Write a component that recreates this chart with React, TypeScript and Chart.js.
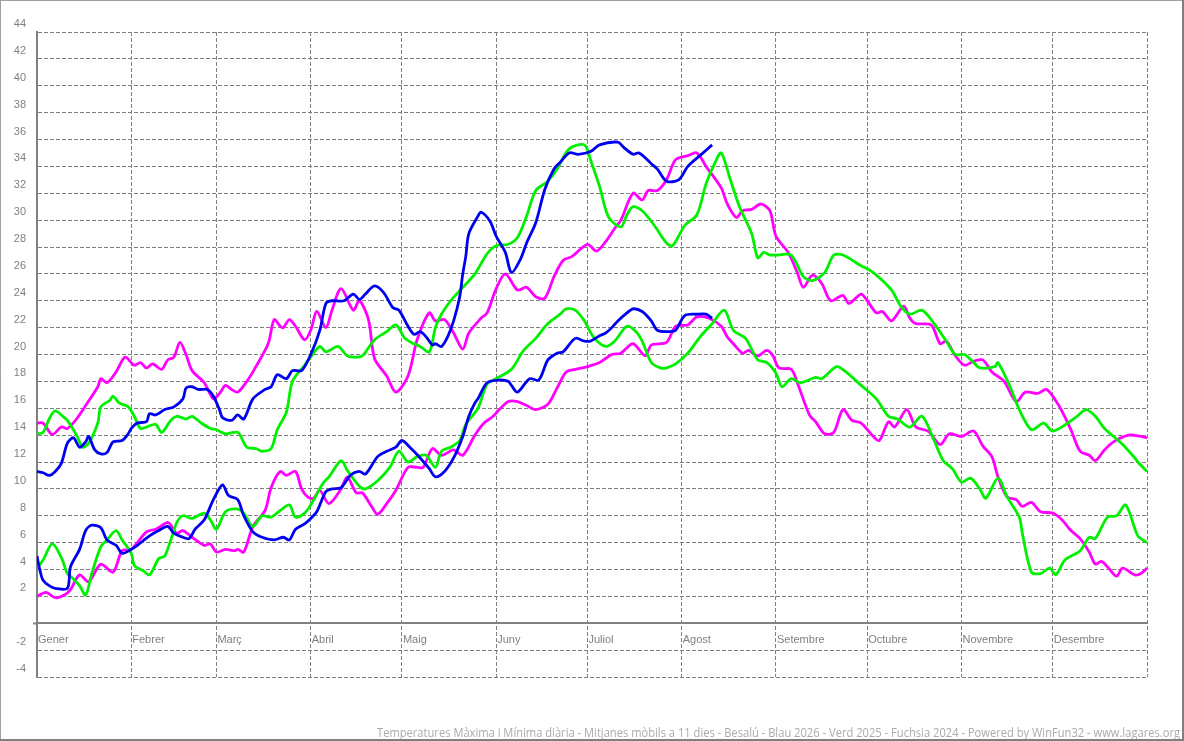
import React, { useEffect, useRef } from "react";
import { Chart, registerables } from "chart.js";

Chart.register(...registerables);

type P = [number, number];

const monthNames = ["Gener", "Febrer", "Març", "Abril", "Maig", "Juny", "Juliol", "Agost", "Setembre", "Octubre", "Novembre", "Desembre", ""];
const monthStarts = [0, 31, 59, 90, 120, 151, 181, 212, 243, 273, 304, 334, 365];

const yMin = -4;
const yMax = 44;
const yStep = 2;

const footerText = "Temperatures Màxima i Mínima diària - Mitjanes mòbils a 11 dies - Besalú - Blau 2026 - Verd 2025 - Fuchsia 2024 - Powered by WinFun32 - www.lagares.org";

// [day of year, °C]
const max2026: P[] = [[0,11.3],[2,11.2],[4,11.0],[6,11.3],[8,11.9],[10,13.4],[12,13.8],[14,13.1],[16,13.5],[17,13.9],[19,12.9],[21,12.6],[23,12.7],[25,13.5],[28,13.6],[30,14.1],[31,14.5],[33,14.9],[36,15.0],[37,15.6],[39,15.5],[42,15.9],[45,16.1],[48,16.7],[49,17.5],[51,17.6],[53,17.4],[56,17.4],[58,16.9],[60,15.9],[61,15.3],[64,15.1],[66,15.5],[68,15.2],[71,16.7],[75,17.4],[77,17.6],[79,18.5],[82,18.2],[84,18.8],[87,18.8],[90,20.0],[93,21.8],[95,23.8],[97,24.0],[101,24.0],[104,24.5],[106,24.1],[108,24.5],[111,25.1],[114,24.6],[117,23.5],[119,23.3],[122,22.1],[124,21.5],[126,21.7],[128,21.3],[130,20.7],[131,20.8],[133,20.6],[135,21.3],[137,22.5],[139,24.3],[140,26.0],[141,27.3],[142,29.0],[145,30.3],[146,30.6],[149,29.9],[151,28.8],[154,27.6],[156,26.1],[159,27.1],[161,28.3],[164,29.8],[167,32.3],[170,33.8],[172,34.3],[175,35.0],[178,34.9],[182,35.1],[185,35.6],[191,35.8],[193,35.4],[196,34.9],[198,35.0],[202,34.2],[204,33.8],[207,32.9],[211,33.0],[214,34.0],[218,34.8],[222,35.6]];

const min2026: P[] = [[0,5.0],[1,3.9],[2,3.2],[4,2.8],[6,2.6],[10,2.6],[11,4.2],[14,5.5],[16,6.9],[18,7.3],[21,7.1],[23,6.2],[26,5.8],[28,5.2],[31,5.5],[33,5.8],[37,6.5],[40,6.9],[43,7.2],[45,6.7],[48,6.4],[50,6.3],[52,7.0],[55,7.7],[58,9.2],[61,10.3],[63,9.5],[66,9.2],[68,8.0],[71,6.8],[74,6.4],[78,6.2],[81,6.4],[83,6.2],[85,7.0],[88,7.4],[90,7.8],[92,8.3],[95,9.8],[97,10.0],[100,10.1],[103,11.0],[106,11.3],[108,11.1],[112,12.4],[115,12.8],[118,13.1],[120,13.6],[123,13.0],[126,12.3],[129,11.5],[131,10.9],[134,11.3],[137,12.3],[140,13.9],[142,15.4],[144,16.4],[145,16.7],[148,17.9],[152,18.1],[155,18.0],[156,17.7],[158,17.2],[162,18.2],[165,18.1],[168,19.6],[171,20.1],[173,20.2],[177,21.2],[180,21.0],[182,21.0],[185,21.4],[187,21.6],[189,22.0],[191,22.5],[194,23.1],[196,23.4],[199,23.2],[202,22.5],[204,21.8],[208,21.7],[210,21.8],[213,22.9],[217,23.0],[220,23.0],[222,22.7]];

const max2025: P[] = [[0,14.1],[2,14.2],[4,15.2],[6,15.8],[9,15.3],[10,15.1],[13,14.0],[15,13.1],[17,13.4],[20,14.9],[21,16.1],[24,16.6],[25,16.9],[27,16.4],[30,16.1],[32,15.4],[34,14.5],[36,14.6],[39,14.8],[41,14.2],[44,15.1],[46,15.4],[49,15.2],[51,15.4],[54,14.9],[57,14.5],[59,14.4],[62,14.1],[66,14.2],[69,13.1],[72,13.0],[74,12.8],[77,13.0],[79,14.4],[82,15.7],[84,18.0],[88,19.2],[90,19.8],[93,20.6],[95,20.2],[99,20.6],[102,19.9],[105,19.8],[107,19.9],[111,21.1],[115,21.7],[118,22.2],[121,21.2],[124,20.8],[126,20.6],[129,20.2],[131,22.0],[133,23.0],[136,24.0],[138,24.5],[140,25.0],[144,26.0],[148,27.5],[151,28.1],[155,28.2],[158,28.7],[161,30.3],[164,32.2],[168,32.9],[171,33.8],[175,35.3],[180,35.6],[182,34.5],[185,32.5],[188,30.2],[192,29.5],[194,30.4],[196,31.0],[199,30.7],[203,29.6],[207,28.3],[209,28.1],[213,29.6],[217,30.4],[220,32.7],[223,34.3],[225,35.0],[228,33.0],[231,31.0],[235,29.0],[237,27.2],[239,27.6],[241,27.4],[243,27.4],[248,27.4],[252,25.8],[255,25.5],[259,26.1],[262,27.4],[265,27.4],[271,26.6],[275,26.1],[281,24.8],[284,23.6],[287,23.0],[291,23.3],[295,22.3],[299,21.0],[302,20.0],[305,20.0],[308,19.4],[310,19.0],[315,19.1],[316,19.4],[320,17.6],[323,15.9],[327,14.4],[331,14.9],[334,14.3],[339,14.9],[342,15.4],[345,15.9],[348,15.4],[351,14.5],[354,13.9],[357,13.3],[361,12.3],[362,12.0],[365,11.3]];

const min2025: P[] = [[0,4.1],[2,4.7],[5,5.9],[8,4.9],[10,3.7],[12,3.3],[14,2.8],[16,2.1],[18,3.7],[21,5.7],[23,6.2],[26,6.9],[28,6.2],[31,5.2],[32,4.3],[35,3.9],[37,3.6],[40,4.8],[42,5.0],[44,6.2],[46,7.5],[48,8.0],[51,7.8],[55,8.2],[57,7.7],[59,7.0],[62,8.3],[66,8.5],[68,8.2],[71,7.2],[74,8.0],[77,7.9],[80,8.4],[83,8.8],[85,7.9],[88,8.2],[90,8.8],[94,10.4],[96,10.9],[100,12.1],[102,11.4],[106,10.2],[108,10.0],[112,10.6],[116,11.6],[119,12.8],[122,12.0],[125,12.4],[128,12.5],[131,11.6],[133,12.8],[136,13.1],[139,13.6],[141,14.8],[145,16.0],[148,17.8],[151,18.2],[156,18.9],[160,20.3],[164,21.2],[168,22.3],[172,23.0],[174,23.4],[177,23.3],[180,22.5],[183,21.3],[187,20.6],[190,21.0],[194,22.1],[197,21.7],[199,21.0],[202,19.4],[205,19.0],[207,19.0],[210,19.3],[214,20.1],[218,21.3],[222,22.3],[226,23.3],[229,21.8],[233,21.2],[237,19.6],[240,19.4],[243,18.6],[245,17.6],[248,18.2],[251,17.9],[256,18.3],[258,18.2],[263,19.1],[266,18.7],[271,17.7],[276,16.7],[280,15.4],[283,15.2],[287,14.6],[291,15.4],[295,13.6],[298,12.1],[301,11.5],[304,10.5],[307,10.8],[310,10.0],[312,9.3],[316,10.8],[319,9.4],[323,7.9],[324,6.7],[327,3.8],[330,3.7],[333,4.1],[335,3.6],[338,4.7],[343,5.4],[346,6.4],[348,6.3],[352,7.9],[355,8.0],[358,8.8],[362,6.5],[365,6.0]];

const max2024: P[] = [[0,14.9],[2,14.9],[5,14.05],[8,14.6],[10,14.5],[13,15.2],[16,16.2],[20,17.6],[21,18.2],[23,17.9],[26,18.7],[29,19.8],[32,19.2],[34,19.4],[36,19.0],[38,19.3],[41,18.9],[43,19.6],[45,19.8],[47,20.9],[49,20.0],[51,18.8],[55,17.9],[58,16.7],[60,17.1],[62,17.7],[64,17.4],[66,17.2],[69,18.0],[72,19.1],[76,20.8],[78,22.6],[80,22.1],[81,22.0],[83,22.6],[85,22.1],[88,21.1],[90,21.8],[92,23.2],[95,22.0],[97,23.3],[100,24.9],[104,23.3],[106,24.0],[109,22.6],[111,19.7],[115,18.4],[118,17.2],[122,18.4],[125,21.1],[129,23.1],[131,22.5],[134,22.6],[137,21.6],[140,20.4],[142,21.6],[146,22.7],[148,23.1],[151,24.9],[154,26.0],[158,24.8],[161,25.0],[164,24.3],[167,24.2],[170,25.8],[173,27.0],[176,27.3],[181,28.2],[184,27.7],[187,28.4],[190,29.4],[192,30.0],[196,32.0],[199,31.5],[201,32.2],[204,32.2],[207,33.0],[210,34.5],[214,34.8],[217,35.0],[220,34.0],[225,32.4],[227,31.2],[230,30.2],[232,30.7],[235,30.8],[238,31.2],[241,30.7],[243,28.8],[247,27.6],[250,26.1],[252,25.0],[255,25.9],[258,25.3],[261,24.0],[265,24.4],[267,23.8],[271,24.5],[273,24.0],[276,23.1],[278,23.2],[281,22.5],[285,23.6],[287,22.7],[289,22.3],[294,22.2],[297,20.8],[299,21.0],[302,19.9],[305,19.2],[308,19.5],[311,19.6],[314,18.7],[318,18.0],[322,16.5],[325,17.2],[329,17.1],[332,17.4],[336,16.2],[340,14.4],[343,12.8],[346,12.5],[348,12.1],[351,12.9],[354,13.5],[359,14.0],[363,13.9],[365,13.8]];

const min2024: P[] = [[0,2.0],[3,2.3],[6,1.9],[9,2.1],[11,2.5],[14,3.6],[17,3.1],[21,4.4],[25,3.8],[28,5.4],[31,5.5],[36,6.8],[39,7.0],[43,7.5],[44,7.3],[46,6.7],[48,6.9],[51,6.4],[55,5.8],[57,5.9],[59,5.3],[62,5.5],[65,5.4],[66,5.5],[68,5.3],[71,7.2],[75,8.4],[77,10.1],[80,11.3],[82,11.0],[85,11.3],[87,10.0],[89,9.4],[91,9.3],[93,9.9],[96,8.9],[100,10.0],[102,10.9],[105,9.7],[107,9.7],[110,8.7],[112,8.1],[115,8.9],[118,9.9],[122,11.6],[125,11.6],[127,11.6],[130,13.0],[133,12.5],[137,12.9],[140,12.5],[144,14.0],[147,14.9],[150,15.4],[152,15.9],[155,16.5],[158,16.5],[161,16.2],[164,15.9],[168,16.3],[171,17.5],[174,18.7],[177,18.9],[181,19.1],[185,19.4],[189,20.0],[192,20.1],[196,20.8],[200,19.9],[202,20.7],[207,20.9],[210,22.1],[214,22.2],[217,22.8],[221,22.7],[225,22.1],[227,21.3],[229,20.8],[232,20.1],[234,20.3],[237,19.9],[240,20.3],[242,19.9],[244,19.0],[248,18.9],[250,17.9],[254,15.5],[256,15.0],[259,14.1],[262,14.2],[265,15.9],[268,15.1],[271,14.9],[275,13.9],[277,13.6],[280,15.0],[282,14.6],[286,15.9],[289,14.6],[293,14.3],[297,13.3],[300,14.1],[304,13.9],[308,14.3],[311,13.2],[314,12.4],[316,10.9],[319,9.4],[322,9.2],[324,8.7],[327,9.0],[330,8.3],[334,8.2],[337,7.7],[340,6.9],[343,6.3],[346,5.3],[348,4.4],[350,4.6],[352,4.2],[355,3.5],[357,4.1],[361,3.6],[363,3.7],[365,4.1]];

const BLUE = "#0000f0";
const GREEN = "#00f000";
const MAGENTA = "#ff00ff";
const GRID = "#808080";
const TEXT = "#808080";

export default function App() {
  const ref = useRef<HTMLCanvasElement>(null);

  useEffect(() => {
    const canvas = ref.current;
    if (!canvas) return;

    const toPts = (a: P[]) => a.map(([x, y]) => ({ x, y }));
    const line = (label: string, data: P[], color: string) => ({
      label,
      data: toPts(data),
      borderColor: color,
      backgroundColor: color,
      borderWidth: 2.8,
      pointRadius: 0,
      tension: 0.3,
      fill: false,
    });

    const framePlugin = {
      id: "frameAndFooter",
      afterDraw(chart: any) {
        const c = chart.ctx as CanvasRenderingContext2D;
        c.save();
        c.font = "12px 'Open Sans', 'Liberation Sans', Arial, sans-serif";
        c.fillStyle = "#aaaaaa";
        c.textBaseline = "alphabetic";
        c.textAlign = "right";
        const w = c.measureText(footerText).width;
        const sx = w > 0 ? 803 / w : 1;
        c.translate(1180, 736.5);
        c.scale(sx, 1);
        c.fillText(footerText, 0, 0);
        c.restore();

        c.save();
        c.strokeStyle = "#a0a0a0";
        c.lineWidth = 1;
        c.beginPath();
        c.moveTo(0, 0.5);
        c.lineTo(1184, 0.5);
        c.moveTo(0.5, 0);
        c.lineTo(0.5, 741);
        c.stroke();
        c.strokeStyle = GRID;
        c.lineWidth = 2;
        c.beginPath();
        c.moveTo(1183, 0);
        c.lineTo(1183, 741);
        c.moveTo(0, 740);
        c.lineTo(1184, 740);
        c.stroke();
        c.restore();
      },
    };

    const chart = new Chart(canvas, {
      type: "line",
      data: {
        datasets: [
          line("Màx 2026", max2026, BLUE),
          line("Mín 2026", min2026, BLUE),
          line("Màx 2025", max2025, GREEN),
          line("Mín 2025", min2025, GREEN),
          line("Màx 2024", max2024, MAGENTA),
          line("Mín 2024", min2024, MAGENTA),
        ],
      },
      options: {
        animation: false,
        responsive: false,
        maintainAspectRatio: false,
        events: [],
        layout: { padding: { top: 32, right: 37, bottom: 64, left: 0 } },
        plugins: {
          legend: { display: false },
          tooltip: { enabled: false },
          title: { display: false },
        },
        scales: {
          x: {
            type: "linear",
            min: 0,
            max: 365,
            position: { y: 0 } as any,
            afterBuildTicks: (scale: any) => {
              scale.ticks = monthStarts.map((v) => ({ value: v }));
            },
            grid: {
              color: GRID,
              lineWidth: 1,
              drawTicks: false,
            },
            border: { display: true, color: GRID, width: 2, dash: [4, 2] },
            ticks: {
              autoSkip: false,
              maxRotation: 0,
              minRotation: 0,
              align: "start",
              padding: 10,
              labelOffset: 1,
              color: TEXT,
              font: { family: "'Liberation Sans', Arial, sans-serif", size: 11 },
              callback: (_v: any, i: number) => monthNames[i] ?? "",
            },
          },
          y: {
            type: "linear",
            position: "left",
            min: yMin,
            max: yMax,
            afterFit: (scale: any) => {
              scale.width = 37;
            },
            grid: {
              color: GRID,
              lineWidth: 1,
              drawTicks: true,
              tickLength: 4,
              tickWidth: 2,
              tickColor: (ctx: any) => (ctx.tick && ctx.tick.value === 0 ? GRID : "rgba(0,0,0,0)"),
            },
            border: { display: true, color: GRID, width: 2, dash: [4, 2] },
            ticks: {
              stepSize: yStep,
              padding: 7,
              labelOffset: -8,
              color: TEXT,
              font: { family: "'Liberation Sans', Arial, sans-serif", size: 11 },
              callback: (v: any) => (Number(v) === 0 ? "" : String(v)),
            },
          },
        },
      },
      plugins: [framePlugin],
    });

    return () => chart.destroy();
  }, []);

  return (
    <div style={{ position: "absolute", left: 0, top: 0, width: 1184, height: 741, background: "#ffffff" }}>
      <canvas ref={ref} width={1184} height={741} style={{ display: "block" }} />
    </div>
  );
}
